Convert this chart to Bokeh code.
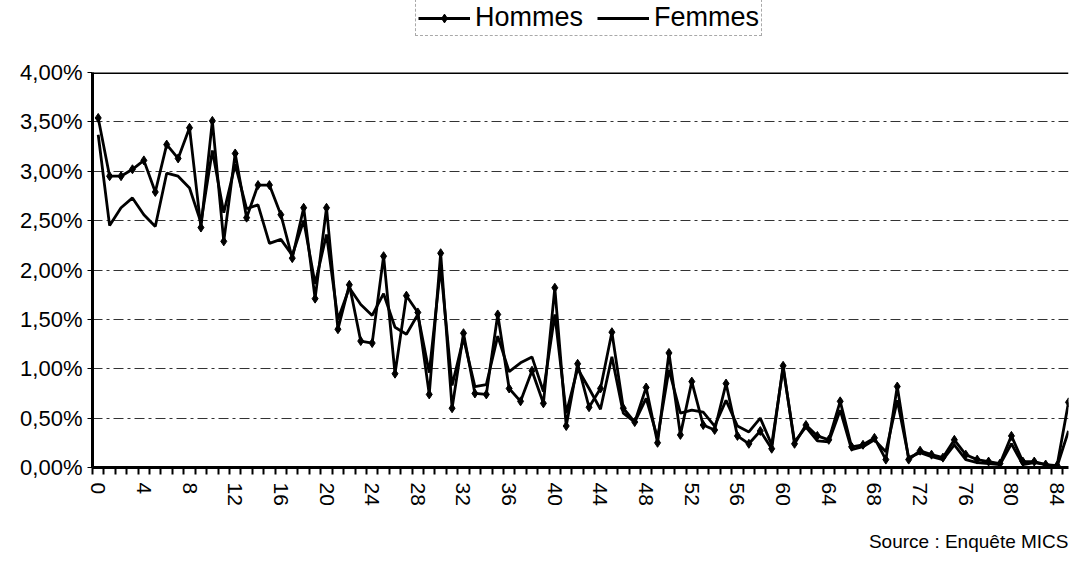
from bokeh.plotting import figure
from bokeh.layouts import column
from bokeh.models import FixedTicker, Legend, LegendItem, Span, Title, Range1d
from bokeh.embed import file_html
from bokeh.resources import INLINE

ages = list(range(86))
hommes = [3.54, 2.95, 2.95, 3.02, 3.11, 2.79, 3.27, 3.13, 3.44, 2.43,
          3.51, 2.29, 3.18, 2.53, 2.86, 2.86, 2.56, 2.12, 2.63, 1.71,
          2.63, 1.40, 1.85, 1.28, 1.26, 2.14, 0.95, 1.74, 1.57, 0.74,
          2.17, 0.60, 1.36, 0.75, 0.74, 1.55, 0.80, 0.67, 0.98, 0.65,
          1.82, 0.42, 1.05, 0.61, 0.80, 1.37, 0.60, 0.46, 0.81, 0.25,
          1.16, 0.33, 0.87, 0.43, 0.38, 0.85, 0.32, 0.24, 0.37, 0.19,
          1.03, 0.24, 0.43, 0.32, 0.28, 0.67, 0.21, 0.23, 0.30, 0.08,
          0.82, 0.08, 0.17, 0.13, 0.10, 0.28, 0.13, 0.08, 0.06, 0.04,
          0.32, 0.06, 0.06, 0.03, 0.02, 0.66]
femmes = [3.37, 2.45, 2.63, 2.73, 2.56, 2.44, 2.98, 2.95, 2.83, 2.48,
          3.21, 2.58, 3.07, 2.62, 2.66, 2.27, 2.31, 2.15, 2.50, 1.86,
          2.36, 1.50, 1.82, 1.65, 1.54, 1.76, 1.42, 1.35, 1.55, 0.96,
          2.03, 0.83, 1.31, 0.82, 0.84, 1.33, 0.97, 1.06, 1.12, 0.77,
          1.55, 0.55, 1.00, 0.80, 0.59, 1.12, 0.55, 0.46, 0.70, 0.30,
          0.99, 0.55, 0.58, 0.56, 0.42, 0.68, 0.42, 0.36, 0.50, 0.23,
          1.01, 0.26, 0.41, 0.27, 0.26, 0.58, 0.18, 0.21, 0.28, 0.16,
          0.68, 0.10, 0.15, 0.11, 0.08, 0.23, 0.08, 0.05, 0.04, 0.03,
          0.24, 0.03, 0.05, 0.03, 0.01, 0.37]
x_ticks = list(range(0, 85, 4))
y_ticks = [0, 0.5, 1, 1.5, 2, 2.5, 3, 3.5, 4]
y_tick_labels = ["0,00%", "0,50%", "1,00%", "1,50%", "2,00%", "2,50%",
                 "3,00%", "3,50%", "4,00%"]
series_names = ["Hommes", "Femmes"]
source_text = "Source : Enquête MICS"

FONT = "Liberation Sans"

# ---------- legend strip (series drawn out of view; only the legend shows) ----------
lg = figure(width=1072, height=40, output_backend="svg", toolbar_location=None,
            x_range=Range1d(-0.5, 85.0), y_range=Range1d(100, 101),
            min_border=0, min_border_left=0, min_border_right=0,
            min_border_top=0, min_border_bottom=0)
lg.axis.visible = False
lg.grid.visible = False
lg.outline_line_color = None
lg_hl = lg.line(ages, hommes, line_color="black", line_width=2.8)
lg_hm = lg.scatter(ages, hommes, marker="diamond", size=8, fill_color="black",
                   line_color="black")
lg_fl = lg.line(ages, femmes, line_color="black", line_width=2.8)
legend = Legend(items=[LegendItem(label=series_names[0], renderers=[lg_hl, lg_hm]),
                       LegendItem(label=series_names[1], renderers=[lg_fl])],
                orientation="horizontal", location=(323, 4),
                label_text_font=FONT, label_text_font_size="27px",
                label_text_color="black", label_height=28,
                glyph_width=52, glyph_height=22, label_standoff=5,
                spacing=14, padding=2, margin=0,
                border_line_color="#555555", border_line_dash="3 3",
                border_line_width=1, background_fill_alpha=0)
lg.add_layout(legend, "center")

# ---------- main chart ----------
p = figure(width=1072, height=532, output_backend="svg", toolbar_location=None,
           x_range=Range1d(-0.5, 85.0), y_range=Range1d(0, 4),
           min_border_left=92, min_border_right=4, min_border_top=32,
           min_border_bottom=104, background_fill_color="white",
           border_fill_color="white")
p.outline_line_color = None

p.xgrid.visible = False
p.ygrid.ticker = FixedTicker(ticks=y_ticks[1:-1])
p.ygrid.grid_line_color = "#333333"
p.ygrid.grid_line_dash = "10 4 3 4"
p.ygrid.grid_line_width = 1

p.yaxis.ticker = FixedTicker(ticks=y_ticks)
p.yaxis.major_label_overrides = {k: v for k, v in zip(y_ticks, y_tick_labels)}
p.yaxis.major_label_text_font = FONT
p.yaxis.major_label_text_font_size = "22px"
p.yaxis.major_label_text_color = "black"
p.yaxis.axis_line_width = 3
p.yaxis.axis_line_color = "black"
p.yaxis.major_tick_out = 5
p.yaxis.major_tick_in = 0
p.yaxis.major_tick_line_color = "black"
p.yaxis.minor_tick_line_color = None
p.yaxis.major_label_standoff = 5

p.xaxis.ticker = FixedTicker(ticks=x_ticks, minor_ticks=[a - 0.5 for a in ages] + [85.5])
p.xaxis.major_tick_line_color = None
p.xaxis.minor_tick_out = 7
p.xaxis.minor_tick_in = 0
p.xaxis.minor_tick_line_width = 2
p.xaxis.minor_tick_line_color = "black"
p.xaxis.axis_line_width = 3
p.xaxis.axis_line_color = "black"
p.xaxis.major_label_orientation = "vertical"
p.xaxis.major_label_text_font = FONT
p.xaxis.major_label_text_font_size = "21px"
p.xaxis.major_label_text_color = "black"
p.xaxis.major_label_standoff = 8

p.add_layout(Span(location=4, dimension="width", line_color="black", line_width=3))

p.line(ages, femmes, line_color="black", line_width=2.8)
p.line(ages, hommes, line_color="black", line_width=2.8)
p.scatter(ages, hommes, marker="diamond", size=9, fill_color="black",
          line_color="black")

p.add_layout(Title(text=source_text, align="right", text_font=FONT,
                   text_font_size="19px", text_font_style="normal",
                   text_color="black", standoff=41), "below")

layout = column(lg, p, spacing=0)
open("out.html", "w").write(file_html(layout, INLINE))
